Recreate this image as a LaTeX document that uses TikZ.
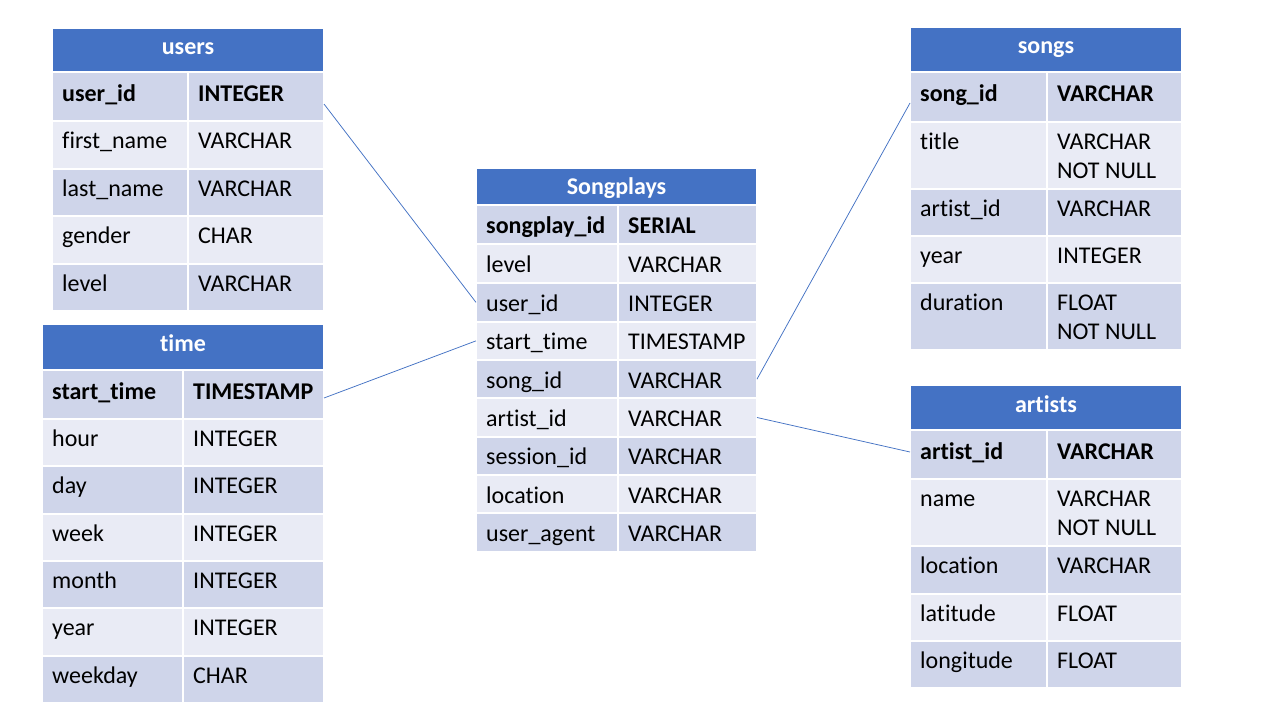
\documentclass[tikz,border=0pt]{standalone}
\usepackage{fontspec}
\setmainfont{Carlito}[Ligatures=NoCommon]
\usetikzlibrary{calc}
\definecolor{hdrblue}{HTML}{4472C4}
\definecolor{rowdark}{HTML}{CFD5EA}
\definecolor{rowlight}{HTML}{E9EBF5}
\def\boff{27}
% #1 name, #2 x0, #3 x1 (divider), #4 x2, #5 ytop, #6 ybot, #7 fill, #8 key text, #9 type text
\newcommand\tabrow[9]{%
  \node[rowbox, fill=#7, minimum width={#4-#2}, minimum height={#6-#5}, anchor=north west] (#1) at (#2,#5) {};
  \draw[sepline] (#3,#5) -- (#3,#6);
  \node[celltxt] (#1-k) at (#2+10,#5+\boff) {#8};
  \node[celltxt] (#1-t) at (#3+10,#5+\boff) {#9};
}
% #1 name, #2 x0, #3 x2, #4 ytop, #5 ybot, #6 title, #7 baseline
\newcommand\tabhead[7]{%
  \node[hdrbox, minimum width={#3-#2}, minimum height={#5-#4}, anchor=north west] (#1) at (#2,#4) {};
  \node[hdrtxt] (#1-title) at ({(#2+#3)/2},#7) {#6};
}
\begin{document}
\begin{tikzpicture}[x=1pt,y=-1pt,
  rowbox/.style={rectangle, draw=white, line width=2pt, inner sep=0pt, outer sep=0pt},
  hdrbox/.style={rectangle, fill=hdrblue, draw=white, line width=2pt, inner sep=0pt, outer sep=0pt},
  sepline/.style={white, line width=2pt},
  celltxt/.style={anchor=base west, inner sep=0pt, font=\fontsize{24}{29}\selectfont},
  hdrtxt/.style={anchor=base, inner sep=0pt, text=white, font=\fontsize{24}{29}\selectfont\bfseries},
  conn/.style={draw=hdrblue, line width=0.75pt}]
\useasboundingbox (0,0) rectangle (1280,720);
\fill[white] (0,0) rectangle (1280,720);

% users
\tabhead{users}{52}{324}{28}{72}{users}{54}
\def\boff{29}
\tabrow{u1}{52}{188}{324}{72}{121}{rowdark}{\bfseries user\_id}{\bfseries INTEGER}
\def\boff{27}
\tabrow{u2}{52}{188}{324}{121}{169}{rowlight}{first\_name}{VARCHAR}
\tabrow{u3}{52}{188}{324}{169}{216}{rowdark}{last\_name}{VARCHAR}
\tabrow{u4}{52}{188}{324}{216}{264}{rowlight}{gender}{CHAR}
\tabrow{u5}{52}{188}{324}{264}{311}{rowdark}{level}{VARCHAR}

% time
\tabhead{time}{42}{324}{324}{370}{time}{351}
\def\boff{29}
\tabrow{t1}{42}{183}{324}{370}{419}{rowdark}{\bfseries start\_time}{\bfseries TIMESTAMP}
\def\boff{27}
\tabrow{t2}{42}{183}{324}{419}{466}{rowlight}{hour}{INTEGER}
\tabrow{t3}{42}{183}{324}{466}{514}{rowdark}{day}{INTEGER}
\tabrow{t4}{42}{183}{324}{514}{561}{rowlight}{week}{INTEGER}
\tabrow{t5}{42}{183}{324}{561}{608}{rowdark}{month}{INTEGER}
\tabrow{t6}{42}{183}{324}{608}{656}{rowlight}{year}{INTEGER}
\tabrow{t7}{42}{183}{324}{656}{703}{rowdark}{weekday}{CHAR}

% songplays
\tabhead{songplays}{476}{757}{168}{205}{Songplays}{194}
\def\boff{28}
\tabrow{p1}{476}{618}{757}{205}{244}{rowdark}{\bfseries songplay\_id}{\bfseries SERIAL}
\tabrow{p2}{476}{618}{757}{244}{283}{rowlight}{level}{VARCHAR}
\tabrow{p3}{476}{618}{757}{283}{321.7}{rowdark}{user\_id}{INTEGER}
\tabrow{p4}{476}{618}{757}{321.7}{360}{rowlight}{start\_time}{TIMESTAMP}
\tabrow{p5}{476}{618}{757}{360}{398.3}{rowdark}{song\_id}{VARCHAR}
\tabrow{p6}{476}{618}{757}{398.3}{436.7}{rowlight}{artist\_id}{VARCHAR}
\tabrow{p7}{476}{618}{757}{436.7}{475}{rowdark}{session\_id}{VARCHAR}
\tabrow{p8}{476}{618}{757}{475}{513.3}{rowlight}{location}{VARCHAR}
\tabrow{p9}{476}{618}{757}{513.3}{551.7}{rowdark}{user\_agent}{VARCHAR}

% songs
\tabhead{songs}{910}{1182}{27}{72}{songs}{53}
\def\boff{29}
\tabrow{s1}{910}{1047}{1182}{72}{122}{rowdark}{\bfseries song\_id}{\bfseries VARCHAR}
\def\boff{27}
\tabrow{s2}{910}{1047}{1182}{122}{189}{rowlight}{title}{VARCHAR}
\node[celltxt] (s2-t2) at (1057,178) {NOT NULL};
\tabrow{s3}{910}{1047}{1182}{189}{236}{rowdark}{artist\_id}{VARCHAR}
\tabrow{s4}{910}{1047}{1182}{236}{283}{rowlight}{year}{INTEGER}
\tabrow{s5}{910}{1047}{1182}{283}{350}{rowdark}{duration}{FLOAT}
\node[celltxt] (s5-t2) at (1057,339) {NOT NULL};

% artists
\tabhead{artists}{910}{1182}{385}{430}{artists}{412}
\def\boff{29}
\tabrow{a1}{910}{1047}{1182}{430}{479}{rowdark}{\bfseries artist\_id}{\bfseries VARCHAR}
\def\boff{27}
\tabrow{a2}{910}{1047}{1182}{479}{546}{rowlight}{name}{VARCHAR}
\node[celltxt] (a2-t2) at (1057,535) {NOT NULL};
\tabrow{a3}{910}{1047}{1182}{546}{594}{rowdark}{location}{VARCHAR}
\tabrow{a4}{910}{1047}{1182}{594}{641}{rowlight}{latitude}{FLOAT}
\tabrow{a5}{910}{1047}{1182}{641}{688}{rowdark}{longitude}{FLOAT}

% connectors
\draw[conn] ([yshift=-7.5pt]u1.east) -- (p3.west);
\draw[conn] ([yshift=-3.5pt]t1.east) -- (p4.west);
\draw[conn] (p5.east) -- ([yshift=-6pt]s1.west);
\draw[conn] (p6.east) -- ([yshift=2.5pt]a1.west);
\end{tikzpicture}
\end{document}
